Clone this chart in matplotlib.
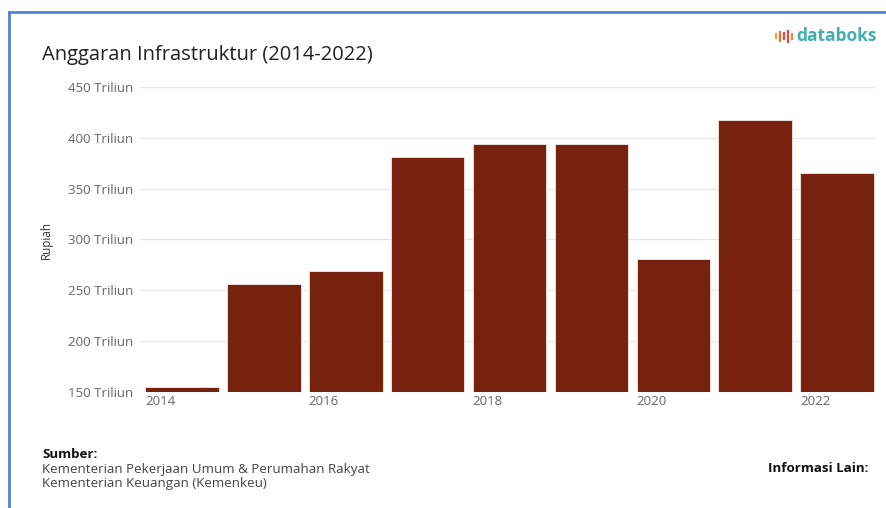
import matplotlib
matplotlib.use("Agg")
import matplotlib.pyplot as plt
from matplotlib.lines import Line2D

plt.rcParams['font.family'] = ['Open Sans', 'DejaVu Sans']

# data (triliun rupiah)
years = [2014, 2015, 2016, 2017, 2018, 2019, 2020, 2021, 2022]
budget = [154.7, 256.1, 269.1, 381.0, 394.0, 394.1, 281.1, 417.4, 365.8]
yticks = [150, 200, 250, 300, 350, 400, 450]
ytick_labels = [f"{v} Triliun" for v in yticks]
xticks = [2014, 2016, 2018, 2020, 2022]

W, H = 887, 508
fig = plt.figure(figsize=(W / 100, H / 100), dpi=100)
fig.patch.set_facecolor("white")

ax = fig.add_axes([140 / W, 1 - 392 / H, (875 - 140) / W, (392 - 87) / H])
ax.bar(years, [b - 150 for b in budget], bottom=150, width=0.9, align="edge",
       color="#77210f", edgecolor="#f3e9e6", linewidth=0.6, zorder=3)

ax.set_ylim(150, 450)
ax.set_xlim(2013.94, 2022.91)
ax.set_yticks(yticks)
ax.set_yticklabels(ytick_labels, fontsize=9.5, color="#666666")
ax.set_xticks(xticks)
ax.set_xticklabels([str(x) for x in xticks], fontsize=9.5, color="#666666", ha="left")
ax.tick_params(axis="both", length=0)
ax.tick_params(axis="y", pad=5)
ax.tick_params(axis="x", pad=2)
ax.grid(axis="y", color="#e6e6e6", linewidth=0.9, zorder=0)
for s in ax.spines.values():
    s.set_visible(False)
ax.set_ylabel("Rupiah", fontsize=8.5, color="#333333", labelpad=11)

# border (blue frame)
fig.add_artist(Line2D([9 / W, 9 / W], [0, 1 - 12 / H], color="#5580d8", linewidth=2, transform=fig.transFigure))
fig.add_artist(Line2D([9 / W, 1], [1 - 12 / H, 1 - 12 / H], color="#5580d8", linewidth=2, transform=fig.transFigure))

# title
fig.text(42 / W, 1 - 55 / H, "Anggaran Infrastruktur (2014-2022)", fontsize=14.5, color="#222222", va="center")

# databoks logo
icon_x = [776, 780, 784, 788, 792]
icon_h = [4, 9, 6, 11, 5]
icon_c = ["#f2a33a", "#ee6b3b", "#e8473d", "#e8473d", "#f08a3a"]
for xi, hi, ci in zip(icon_x, icon_h, icon_c):
    fig.add_artist(Line2D([xi / W, xi / W], [1 - (36 + hi / 2) / H, 1 - (36 - hi / 2) / H],
                          color=ci, linewidth=1.6, transform=fig.transFigure))
fig.text(796 / W, 1 - 36 / H, "databoks", fontsize=12.5, fontweight="bold", color="#3fb0ac", va="center")

# footer
fig.text(42 / W, 1 - 455 / H, "Sumber:", fontsize=9.6, fontweight="bold", color="#111111", va="center")
fig.text(42 / W, 1 - 469 / H, "Kementerian Pekerjaan Umum & Perumahan Rakyat", fontsize=9.6, color="#444444", va="center")
fig.text(42 / W, 1 - 483 / H, "Kementerian Keuangan (Kemenkeu)", fontsize=9.6, color="#444444", va="center")
fig.text(868 / W, 1 - 468 / H, "Informasi Lain:", fontsize=9.6, fontweight="bold", color="#111111", va="center", ha="right")

fig.savefig("out.png", dpi=100, facecolor="white")
